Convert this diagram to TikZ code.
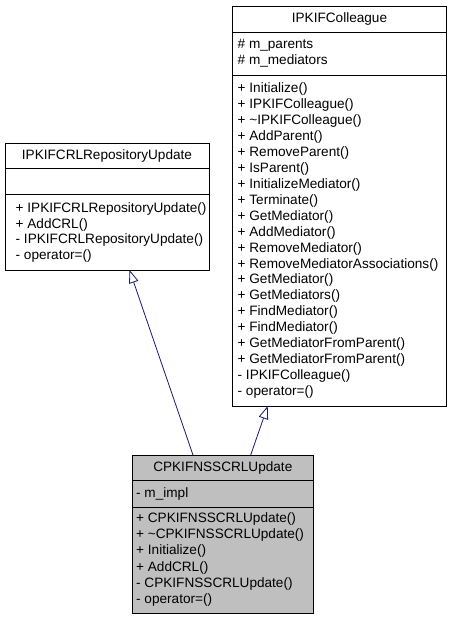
\documentclass[tikz,border=0pt]{standalone}
\usepackage{fontspec}
\setmainfont{Liberation Sans}
\usetikzlibrary{arrows.meta}
\definecolor{edgeblue}{HTML}{191970}
\definecolor{classgray}{HTML}{BFBFBF}
\begin{document}
\begin{tikzpicture}[x=1pt,y=-1pt,
  classbox/.style={draw=black,line width=1pt,anchor=north west,inner sep=0pt,outer sep=0pt},
  txt/.style={anchor=west,inner sep=0pt,text height=9.6pt,text depth=2.8pt,font=\fontsize{13.6}{15.9}\selectfont},
  ttl/.style={anchor=center,inner sep=0pt,text height=9.6pt,text depth=2.8pt,font=\fontsize{13.6}{15.9}\selectfont},
  sepline/.style={draw=black,line width=1pt},
  inh/.style={draw=edgeblue,line width=0.8pt,-{Triangle[open,length=13pt,width=9.6pt,fill=white]}}]
\useasboundingbox (0,0) rectangle (451,619);

% ---- IPKIFCRLRepositoryUpdate ----
\node[classbox,fill=white,minimum width=204pt,minimum height=127pt] (crl) at (5,143) {};
\draw[sepline] (crl.west |- 0,168.5) -- (crl.east |- 0,168.5);
\draw[sepline] (crl.west |- 0,194.3) -- (crl.east |- 0,194.3);
\node[ttl] (crlt) at (107,155.8) {IPKIFCRLRepositoryUpdate};
\foreach \t [count=\i from 0] in {{+ IPKIFCRLRepositoryUpdate()},{+ AddCRL()},{- IPKIFCRLRepositoryUpdate()},{- operator=()}}
  \node[txt] (crlm\i) at (15.5,208.8+15.8*\i) {\t};

% ---- IPKIFColleague ----
\node[classbox,fill=white,minimum width=214pt,minimum height=400pt] (col) at (232.5,6) {};
\draw[sepline] (col.west |- 0,32.5) -- (col.east |- 0,32.5);
\draw[sepline] (col.west |- 0,75) -- (col.east |- 0,75);
\node[ttl] (colt) at (339.5,19) {IPKIFColleague};
\node[txt] (cola0) at (237.5,45.5) {\# m\_parents};
\node[txt] (cola1) at (237.5,61.4) {\# m\_mediators};
\foreach \t [count=\i from 0] in {{+ Initialize()},{+ IPKIFColleague()},{+ \textasciitilde IPKIFColleague()},{+ AddParent()},{+ RemoveParent()},{+ IsParent()},{+ InitializeMediator()},{+ Terminate()},{+ GetMediator()},{+ AddMediator()},{+ RemoveMediator()},{+ RemoveMediatorAssociations()},{+ GetMediator()},{+ GetMediators()},{+ FindMediator()},{+ FindMediator()},{+ GetMediatorFromParent()},{+ GetMediatorFromParent()},{- IPKIFColleague()},{- operator=()}}
  \node[txt] (colm\i) at (237.5,89.5+15.92*\i) {\t};

% ---- CPKIFNSSCRLUpdate ----
\node[classbox,fill=classgray,minimum width=181pt,minimum height=158pt] (cp) at (132.3,455) {};
\draw[sepline] (cp.west |- 0,480.5) -- (cp.east |- 0,480.5);
\draw[sepline] (cp.west |- 0,507) -- (cp.east |- 0,507);
\node[ttl] (cpt) at (222.8,467.8) {CPKIFNSSCRLUpdate};
\node[txt] (cpa0) at (136,493.8) {- m\_impl};
\foreach \t [count=\i from 0] in {{+ CPKIFNSSCRLUpdate()},{+ \textasciitilde CPKIFNSSCRLUpdate()},{+ Initialize()},{+ AddCRL()},{- CPKIFNSSCRLUpdate()},{- operator=()}}
  \node[txt] (cpm\i) at (136,519+16.2*\i) {\t};

% ---- inheritance edges ----
\coordinate (e1s) at (cp.north -| 193,0);
\coordinate (e1t) at (crl.south -| 129.5,0);
\coordinate (e2s) at (cp.north -| 250.7,0);
\coordinate (e2t) at (col.south -| 267.7,0);
\draw[inh] (e1s) -- (e1t);
\draw[inh] (e2s) -- (e2t);
\end{tikzpicture}
\end{document}
